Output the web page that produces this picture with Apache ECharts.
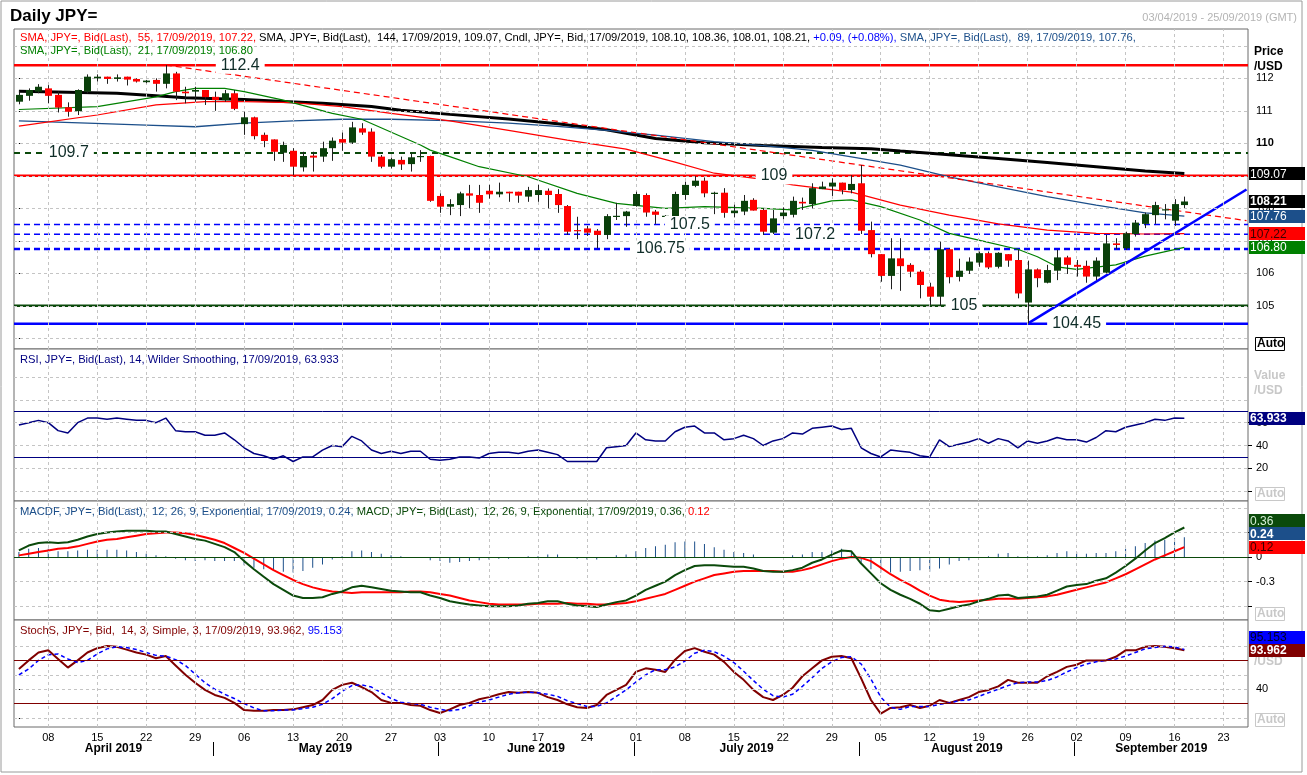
<!DOCTYPE html>
<html><head><meta charset="utf-8">
<script src="https://cdn.jsdelivr.net/npm/echarts@6/dist/echarts.min.js"></script>
<style>html,body{margin:0;padding:0;background:#fff;}#c{width:1307px;height:775px;}</style>
</head><body><div id="c"></div>
<script>
// ---------- data ----------
const START_DATE = '2019-04-03', END_DATE = '2019-09-25';
const monthNames = ['January','February','March','April','May','June','July','August','September','October','November','December'];
const openP = [111.28,111.46,111.59,111.69,111.49,111.11,110.99,111.59,112.00,112.05,111.98,112.05,111.98,111.88,111.95,111.83,112.15,111.59,111.59,111.64,111.43,111.33,111.54,110.59,110.80,110.26,110.12,109.71,109.77,109.26,109.62,109.59,109.85,110.13,110.02,110.46,110.36,109.59,109.28,109.49,109.36,109.60,109.61,108.38,108.05,108.10,108.46,108.41,108.54,108.43,108.51,108.51,108.36,108.41,108.54,108.44,108.07,107.33,107.38,107.31,107.18,107.74,107.76,108.07,108.41,107.90,107.75,107.76,108.41,108.69,108.85,108.44,108.48,107.85,107.90,108.26,107.95,107.25,107.76,107.80,108.20,108.13,108.59,108.67,108.79,108.56,108.77,107.33,106.59,105.92,106.46,106.26,106.05,105.59,105.28,106.74,105.89,106.08,106.33,106.62,106.20,106.59,106.41,105.10,106.12,105.71,106.08,106.49,106.26,106.23,105.90,106.02,106.92,106.77,107.21,107.52,107.79,107.95,107.62,108.10];
const highP = [111.62,111.69,111.82,111.79,111.59,111.26,111.66,112.12,112.12,112.05,112.12,112.05,112.00,111.95,112.00,112.41,112.20,111.74,111.74,111.64,111.59,111.64,111.64,110.97,110.82,110.33,110.12,110.05,109.85,109.74,109.74,110.05,110.18,110.33,110.66,110.62,110.46,109.64,109.56,109.59,109.69,109.79,109.62,108.46,108.28,108.51,108.72,108.72,108.72,108.79,108.51,108.51,108.66,108.72,108.61,108.59,108.10,107.74,107.46,107.36,107.82,108.17,107.92,108.51,108.46,107.95,107.79,108.51,108.82,108.99,108.95,108.51,108.62,108.11,108.41,108.31,108.00,107.95,108.03,108.36,108.33,108.77,108.82,108.92,108.79,109.02,109.33,107.59,106.59,107.08,107.08,106.31,106.10,105.71,106.97,106.77,106.45,106.49,106.67,106.67,106.65,106.59,106.72,106.39,106.15,106.26,106.72,106.54,106.41,106.39,106.49,107.18,107.08,107.28,107.64,107.87,108.20,108.13,108.28,108.36];
const lowP = [111.20,111.31,111.54,111.23,110.95,110.82,110.87,111.54,111.90,111.83,111.90,111.78,111.87,111.85,111.59,111.69,111.33,111.23,111.28,111.18,111.00,111.28,111.02,110.26,110.12,109.88,109.46,109.43,109.02,109.13,109.13,109.43,109.46,109.77,109.98,110.26,109.43,109.23,109.23,109.18,109.13,109.43,108.20,107.86,107.79,107.76,108.00,107.86,108.30,108.34,108.20,108.17,108.20,108.20,108.00,107.86,107.18,107.05,107.15,106.77,107.05,107.64,107.43,108.05,107.74,107.52,107.62,107.69,108.26,108.65,108.34,107.82,107.71,107.72,107.79,107.93,107.18,107.21,107.66,107.72,107.95,108.00,108.59,108.38,108.43,108.46,107.21,106.49,105.74,105.51,105.46,105.88,105.23,105.02,105.02,105.69,105.75,105.98,106.20,106.13,106.15,106.20,105.23,104.46,105.57,105.69,105.79,105.98,105.90,105.71,105.79,106.00,106.74,106.72,107.13,107.39,107.52,107.66,107.46,108.01];
const closeP = [111.49,111.64,111.74,111.46,111.10,110.97,111.64,112.05,112.05,111.98,112.03,111.96,111.90,111.93,111.83,112.15,111.59,111.54,111.64,111.42,111.33,111.54,111.06,110.80,110.22,110.07,109.74,109.95,109.28,109.61,109.56,109.85,110.08,110.02,110.49,110.33,109.59,109.28,109.51,109.35,109.57,109.61,108.23,108.05,108.13,108.46,108.39,108.17,108.43,108.51,108.46,108.39,108.56,108.56,108.41,108.10,107.28,107.31,107.25,107.18,107.76,107.77,107.90,108.44,107.87,107.80,107.77,108.44,108.72,108.85,108.46,108.48,107.86,107.93,108.23,107.93,107.28,107.69,107.87,108.23,108.15,108.62,108.67,108.79,108.56,108.75,107.31,106.59,105.92,106.46,106.22,106.05,105.64,105.28,106.74,105.88,106.08,106.36,106.62,106.18,106.63,106.39,105.38,106.12,105.85,106.10,106.49,106.26,106.20,105.90,106.39,106.92,106.87,107.23,107.56,107.82,108.10,107.97,108.13,108.21];

// moving averages: [dayIndex, value]
const sma144 = [[0,111.60],[10,111.54],[14,111.46],[17,111.40],[23,111.35],[27,111.29],[31,111.23],[36,111.13],[39,111.02],[44,110.89],[50,110.75],[55,110.60],[60,110.42],[65,110.15],[70,110.02],[76,109.93],[82,109.87],[87,109.83],[90,109.76],[95,109.65],[100,109.53],[105,109.41],[110,109.28],[115,109.15],[119,109.07]];
const sma89 = [[0,110.69],[7,110.62],[13,110.56],[18,110.51],[23,110.62],[28,110.69],[33,110.74],[38,110.74],[44,110.70],[50,110.62],[55,110.52],[60,110.40],[65,110.25],[71,110.05],[76,109.93],[81,109.78],[85,109.58],[90,109.33],[95,108.97],[100,108.66],[105,108.36],[110,108.10],[115,107.86],[119,107.76]];
const sma55 = [[0,110.53],[8,110.87],[14,111.18],[19,111.28],[23,111.28],[28,111.25],[33,111.13],[38,110.92],[44,110.69],[50,110.40],[56,110.10],[62,109.82],[67,109.42],[71,109.08],[76,108.89],[79,108.72],[85,108.50],[90,108.10],[95,107.79],[100,107.52],[105,107.33],[110,107.23],[115,107.21],[119,107.22]];
const sma21 = [[0,111.04],[8,111.13],[14,111.43],[16,111.59],[18,111.69],[21,111.69],[23,111.59],[27,111.33],[32,110.92],[35,110.74],[41,109.95],[42,109.79],[44,109.59],[47,109.28],[52,108.97],[57,108.46],[61,108.15],[66,108.00],[70,108.05],[76,108.00],[79,107.95],[83,108.23],[85,108.26],[88,108.05],[92,107.64],[95,107.23],[98,107.02],[102,106.74],[104,106.51],[106,106.20],[108,106.12],[112,106.26],[115,106.53],[119,106.80]];

// drawn levels and trend lines
const levelValues = [112.4, 109.7, 109, 107.5, 107.2, 106.75, 105, 104.45];
const levelTexts  = ['112.4','109.7','109','107.5','107.2','106.75','105','104.45'];
const levelLabelAt = [22.6, 5.1, 77.1, 68.5, 81.3, 65.5, 96.5, 108.0];
const redTrend  = [[15, 112.41], [125.35, 107.62]];
const blueTrend = [[103, 104.45], [125.35, 108.58]];

const rsi = [58,60,62,60,53,51,60,64,64,63, 64,63,62,62,60,64,53,52,52,49, 49,51,45,38,33,31,28,31,26,30, 30,36,40,39,48,44,36,33,35,33, 35,35,28,27,28,30,30,29,33,34, 34,33,35,36,34,32,26,26,26,26, 38,39,40,51,45,44,44,52,56,57, 51,51,45,46,49,46,40,44,46,51, 50,55,56,57,54,55,38,33,30,36, 35,34,31,30,45,39,41,43,46,42, 46,44,38,44,42,44,47,45,45,43, 47,53,52,56,58,60,63,62,64,63.933];
const macd = [0.08,0.14,0.17,0.18,0.17,0.18,0.21,0.25,0.28,0.30, 0.31,0.32,0.32,0.32,0.31,0.31,0.28,0.25,0.22,0.20, 0.16,0.12,0.06,-0.05,-0.15,-0.24,-0.33,-0.40,-0.47,-0.50, -0.50,-0.49,-0.45,-0.42,-0.37,-0.35,-0.37,-0.39,-0.41,-0.42, -0.43,-0.43,-0.47,-0.50,-0.54,-0.56,-0.58,-0.59,-0.60,-0.60, -0.60,-0.59,-0.57,-0.56,-0.54,-0.54,-0.57,-0.59,-0.60,-0.61, -0.58,-0.55,-0.53,-0.47,-0.40,-0.35,-0.30,-0.22,-0.16,-0.11, -0.10,-0.10,-0.11,-0.12,-0.12,-0.14,-0.17,-0.18,-0.18,-0.16, -0.13,-0.07,-0.03,0.03,0.08,0.07,-0.08,-0.20,-0.32,-0.40, -0.46,-0.51,-0.57,-0.65,-0.66,-0.63,-0.60,-0.58,-0.54,-0.51, -0.47,-0.46,-0.50,-0.49,-0.48,-0.46,-0.41,-0.36,-0.34,-0.33, -0.29,-0.26,-0.19,-0.11,-0.02,0.08,0.17,0.23,0.30,0.36];
const macdSignal = [0.02,0.04,0.06,0.08,0.10,0.11,0.13,0.16,0.19,0.21, 0.22,0.24,0.26,0.28,0.29,0.30,0.30,0.29,0.27,0.24, 0.21,0.17,0.11,0.05,-0.02,-0.09,-0.16,-0.22,-0.28,-0.33, -0.37,-0.40,-0.42,-0.43,-0.44,-0.43,-0.43,-0.43,-0.43,-0.43, -0.42,-0.42,-0.43,-0.45,-0.47,-0.50,-0.53,-0.55,-0.57,-0.58, -0.58,-0.58,-0.58,-0.57,-0.57,-0.57,-0.56,-0.57,-0.57,-0.58, -0.58,-0.57,-0.56,-0.54,-0.51,-0.48,-0.45,-0.40,-0.35,-0.30, -0.26,-0.22,-0.20,-0.18,-0.17,-0.17,-0.17,-0.17,-0.18,-0.18, -0.16,-0.13,-0.09,-0.05,-0.02,0.00,-0.01,-0.05,-0.13,-0.21, -0.28,-0.34,-0.41,-0.47,-0.52,-0.54,-0.55,-0.54,-0.53,-0.52, -0.51,-0.51,-0.51,-0.50,-0.49,-0.48,-0.46,-0.43,-0.40,-0.37, -0.34,-0.31,-0.26,-0.21,-0.15,-0.09,-0.03,0.02,0.07,0.12];
const macdHist = [0.06,0.10,0.11,0.10,0.07,0.07,0.08,0.09,0.09,0.09, 0.09,0.08,0.06,0.04,0.02,0.01,-0.02,-0.04,-0.05,-0.04, -0.05,-0.05,-0.05,-0.10,-0.13,-0.15,-0.17,-0.18,-0.19,-0.17, -0.13,-0.09,-0.03,0.01,0.07,0.08,0.06,0.04,0.02,0.01, -0.01,-0.01,-0.04,-0.05,-0.07,-0.06,-0.05,-0.04,-0.03,-0.02, -0.02,-0.01,0.01,0.01,0.03,0.03,-0.01,-0.02,-0.03,-0.03, 0.00,0.02,0.03,0.07,0.11,0.13,0.15,0.18,0.19,0.19, 0.16,0.12,0.09,0.06,0.05,0.03,0.00,-0.01,0.00,0.02, 0.03,0.06,0.06,0.08,0.10,0.07,-0.07,-0.15,-0.19,-0.19, -0.18,-0.17,-0.16,-0.18,-0.14,-0.09,-0.05,-0.04,-0.01,0.01, 0.04,0.05,0.01,0.01,0.01,0.02,0.05,0.07,0.06,0.04, 0.05,0.05,0.07,0.10,0.13,0.17,0.20,0.21,0.23,0.24];
const stochK = [68,80,91,94,82,70,80,91,97,100, 99,95,91,88,83,86,73,60,49,39, 32,28,21,11,10,10,11,11,12,15, 18,25,39,46,49,43,36,25,21,21, 18,17,11,7,12,18,21,26,29,33, 36,35,36,35,29,25,19,15,14,18, 32,39,46,64,69,67,64,81,93,97, 92,88,78,64,53,39,29,25,32,42, 58,69,80,85,86,83,55,25,6,14, 15,18,14,17,25,21,25,29,36,39, 44,53,49,49,49,58,64,71,74,80, 80,80,85,94,94,99,100,99,97,93.962];
const stochD = [60,68,80,88,89,82,77,80,89,96, 99,98,95,91,87,86,81,73,61,49, 40,33,27,20,14,10,10,11,11,13, 15,19,27,37,45,46,43,35,27,22, 20,19,15,12,10,12,17,22,25,29, 33,35,36,35,33,30,24,20,16,16, 21,30,39,50,60,67,67,71,79,90, 94,92,86,77,65,52,40,31,29,33, 44,56,69,78,84,85,75,54,29,15, 12,16,16,16,19,21,24,25,30,35, 40,45,49,50,50,52,57,64,70,75, 78,80,82,86,91,96,98,99.5,98.7,95.153];

const priceTicks = [104,105,106,107,108,109,110,111,112];
const priceLabels = [105,106,107,108,109,110,111,112];
const priceGrid = [104,105,106,107,108,109,110,111,112,113];

// ---------- categories ----------
const dates = [];
for (let d = new Date(START_DATE + 'T00:00:00Z'); d <= new Date(END_DATE + 'T00:00:00Z'); d.setUTCDate(d.getUTCDate() + 1)) {
  const w = d.getUTCDay(); if (w > 0 && w < 6) dates.push(d.toISOString().slice(0, 10));
}
const dow = s => new Date(s + 'T00:00:00Z').getUTCDay();
const mondays = dates.map((s, i) => dow(s) === 1 ? i : -1).filter(i => i >= 0);
const monthStarts = [];
dates.forEach((s, i) => { if (i > 0 && s.slice(5, 7) !== dates[i - 1].slice(5, 7)) monthStarts.push(i); });
const sepVals = monthStarts.map(i => i - 0.2);
const bounds = [-0.5].concat(sepVals, [dates.length - 0.5]);
const monthCenters = [], monthLabelText = [];
for (let k = 0; k < bounds.length - 1; k++) {
  monthCenters.push((bounds[k] + bounds[k + 1]) / 2);
  const firstIdx = k === 0 ? 0 : monthStarts[k - 1];
  const m = +dates[firstIdx].slice(5, 7) - 1;
  monthLabelText.push(monthNames[m] + ' ' + dates[firstIdx].slice(0, 4));
}

const candleData = openP.map((o, i) => [i, o, closeP[i], lowP[i], highP[i]]);

// ---------- layout ----------
const L = 14, W = 1234;
const grids = [
  {left: L, width: W, top: 29, height: 320},
  {left: L, width: W, top: 349, height: 152},
  {left: L, width: W, top: 501, height: 119},
  {left: L, width: W, top: 620, height: 107}
].map(g => Object.assign(g, {show: true, borderColor: '#6a6a6a', borderWidth: 1, backgroundColor: '#fff', outerBoundsMode: 'none'}));

const FONT = '"Liberation Sans", Arial, sans-serif';
const gridLineStyle = {color: '#c4c4c4', type: [3, 3], width: 1};
function gridMarks(hVals) {
  return {
    silent: true, symbol: ['none', 'none'], animation: false,
    label: {show: false}, lineStyle: gridLineStyle, emphasis: {disabled: true},
    data: mondays.map(i => ({xAxis: dates[i]})).concat(hVals.map(v => ({yAxis: v})))
  };
}
function refMarks(vals, color, width) {
  return {silent: true, symbol: ['none', 'none'], animation: false, label: {show: false},
    lineStyle: {color: color, type: 'solid', width: width || 1}, emphasis: {disabled: true},
    data: vals.map(v => ({yAxis: v}))};
}
function catAxis(gi, extra) {
  return Object.assign({type: 'category', gridIndex: gi, data: dates, boundaryGap: true,
    axisLine: {show: false}, axisTick: {show: false}, axisLabel: {show: false}, splitLine: {show: false}}, extra || {});
}
function valYAxis(gi, min, max, ticks, labels, fmt) {
  return {type: 'value', gridIndex: gi, position: 'right', min: min, max: max, scale: true,
    axisLine: {show: false}, splitLine: {show: false},
    axisTick: {show: true, length: 4, inside: false, customValues: ticks, lineStyle: {color: '#000'}},
    axisLabel: {show: true, customValues: labels, margin: 8, color: '#000', fontSize: 11, fontFamily: FONT,
      formatter: fmt || (v => String(v)), rich: {b: {fontWeight: 'bold', fontSize: 11, fontFamily: FONT, color: '#000'}}}};
}

const xAxes = [
  catAxis(0), catAxis(1), catAxis(2),
  catAxis(3, {axisLabel: {show: true, interval: (i) => dow(dates[i]) === 1, formatter: v => v.slice(8, 10),
    color: '#000', fontSize: 11, fontFamily: FONT, margin: 5}}),
  {type: 'value', gridIndex: 0, min: -0.5, max: dates.length - 0.5, show: false},
  {type: 'value', gridIndex: 3, min: -0.5, max: dates.length - 0.5, position: 'bottom', offset: 15,
    axisLine: {show: false}, splitLine: {show: false},
    axisTick: {show: true, customValues: sepVals, length: 14, lineStyle: {color: '#000', width: 1}},
    axisLabel: {show: true, customValues: monthCenters, margin: 1, fontWeight: 'bold', fontSize: 12, fontFamily: FONT, color: '#000',
      formatter: v => { const k = monthCenters.findIndex(c => Math.abs(c - v) < 1e-6); return k >= 0 ? monthLabelText[k] : ''; }}}
];
const yAxes = [
  valYAxis(0, 103.671, 113.517, priceTicks, priceLabels, v => v === 110 ? '{b|110}' : String(v)),
  valYAxis(1, -8.58, 124.46, [0, 20, 40, 60], [20, 40, 60]),
  valYAxis(2, -0.768, 0.683, [-0.6, -0.3, 0, 0.3], [-0.3, 0, 0.3], v => String(Math.round(v * 10) / 10)),
  valYAxis(3, -12.5, 136.1, [0, 40], [40])
];

const series = [];
series.push({type: 'line', xAxisIndex: 0, yAxisIndex: 0, data: [], z: 0, markLine: gridMarks(priceGrid)});
series.push({type: 'line', xAxisIndex: 1, yAxisIndex: 1, data: [], z: 0, markLine: gridMarks([0, 20, 40, 60, 80, 100])});
series.push({type: 'line', xAxisIndex: 2, yAxisIndex: 2, data: [], z: 0, markLine: gridMarks([-0.6, -0.3, 0.3, 0.6])});
series.push({type: 'line', xAxisIndex: 3, yAxisIndex: 3, data: [], z: 0, markLine: gridMarks([0, 20, 40, 60, 80, 100])});

const levelStyles = [
  {color: '#ff0000', width: 2.5, type: 'solid'},
  {color: '#0b4a0b', width: 2, type: [6, 5]},
  {color: '#ff0000', width: 2.5, type: 'solid'},
  {color: '#0000ff', width: 1.5, type: [6, 4]},
  {color: '#0000ff', width: 1.5, type: [6, 4]},
  {color: '#0000ff', width: 2.5, type: [6, 4]},
  {color: '#0b4a0b', width: 2.5, type: 'solid'},
  {color: '#0000ff', width: 2.5, type: 'solid'}
];
levelValues.forEach((v, k) => {
  series.push({type: 'line', xAxisIndex: 4, yAxisIndex: 0, data: [[-0.5, v], [dates.length - 0.5, v]],
    symbol: 'none', silent: true, z: 2, lineStyle: levelStyles[k]});
});
[[sma144, '#000000', 3], [sma89, '#1c4f8a', 1.3], [sma55, '#ff0000', 1.2], [sma21, '#008000', 1.2]].forEach(([d, c, w]) => {
  series.push({type: 'line', xAxisIndex: 0, yAxisIndex: 0, data: d, symbol: 'none', silent: true, z: 3,
    lineStyle: {color: c, width: w}});
});
series.push({type: 'line', xAxisIndex: 4, yAxisIndex: 0, data: redTrend, symbol: 'none', silent: true, z: 3,
  lineStyle: {color: '#ff0000', width: 1.2, type: [6, 4]}});
series.push({type: 'line', xAxisIndex: 4, yAxisIndex: 0, data: blueTrend, symbol: 'none', silent: true, z: 4,
  lineStyle: {color: '#0000ff', width: 2.5}});
series.push({type: 'custom', xAxisIndex: 0, yAxisIndex: 0, data: candleData, z: 5, clip: true,
  encode: {x: 0, y: [1, 2, 3, 4]},
  renderItem: function (params, api) {
    const i = api.value(0), o = api.value(1), c = api.value(2), lo = api.value(3), hi = api.value(4);
    const po = api.coord([i, o]), pc = api.coord([i, c]), pl = api.coord([i, lo]), ph = api.coord([i, hi]);
    const x = Math.round(po[0]);
    const top = Math.min(po[1], pc[1]);
    const h = Math.max(1.2, Math.abs(po[1] - pc[1]));
    const col = c >= o ? '#0a400a' : '#ff0000';
    return {type: 'group', children: [
      {type: 'line', shape: {x1: x + 0.5, y1: ph[1], x2: x + 0.5, y2: pl[1]}, style: {stroke: '#202020', lineWidth: 1}},
      {type: 'rect', shape: {x: x - 3, y: top, width: 7, height: h}, style: {fill: col}}
    ]};
  }});
series.push({type: 'scatter', xAxisIndex: 4, yAxisIndex: 0, z: 8, silent: true, symbolSize: 1,
  itemStyle: {color: 'rgba(0,0,0,0)', opacity: 1},
  data: levelValues.map((v, k) => [levelLabelAt[k], v]),
  label: {show: true, position: 'inside', formatter: p => levelTexts[p.dataIndex], color: '#0f2d28', opacity: 1,
    fontSize: 16, fontFamily: FONT, backgroundColor: '#fff', padding: [1, 5, 0, 5]}});

series.push({type: 'line', xAxisIndex: 1, yAxisIndex: 1, data: rsi, symbol: 'none', silent: true, z: 3,
  lineStyle: {color: '#000080', width: 1.5}, markLine: refMarks([70, 30], '#000080', 1)});
series.push({type: 'bar', xAxisIndex: 2, yAxisIndex: 2, data: macdHist, barWidth: 1, silent: true, z: 2,
  itemStyle: {color: '#1c4f8a'}, markLine: refMarks([0], '#0b4a0b', 1)});
series.push({type: 'line', xAxisIndex: 2, yAxisIndex: 2, data: macdSignal, symbol: 'none', silent: true, z: 3,
  lineStyle: {color: '#ff0000', width: 2}});
series.push({type: 'line', xAxisIndex: 2, yAxisIndex: 2, data: macd, symbol: 'none', silent: true, z: 4,
  lineStyle: {color: '#0b4a0b', width: 2}});
series.push({type: 'line', xAxisIndex: 3, yAxisIndex: 3, data: stochK, symbol: 'none', silent: true, z: 3,
  lineStyle: {color: '#800000', width: 2}, markLine: refMarks([80, 20], '#800000', 1)});
series.push({type: 'line', xAxisIndex: 3, yAxisIndex: 3, data: stochD, symbol: 'none', silent: true, z: 4,
  lineStyle: {color: '#0000ff', width: 1.5, type: [4, 3]}});

const chart = echarts.init(document.getElementById('c'), null, {renderer: 'canvas'});
chart.setOption({animation: false, backgroundColor: '#fff', grid: grids, xAxis: xAxes, yAxis: yAxes, series: series});

// ---------- texts & value boxes ----------
const T = (x, y, text, opt, z) => ({type: 'text', x: x, y: y, z: z || 100,
  style: Object.assign({text: text, fill: '#000', font: '11px ' + FONT, textVerticalAlign: 'middle'}, opt || {})});
const rich = (x, y, parts) => ({type: 'text', x: x, y: y, z: 100, style: {
  text: parts.map((p, k) => '{s' + k + '|' + p[0] + '}').join(''),
  textVerticalAlign: 'middle',
  rich: Object.fromEntries(parts.map((p, k) => ['s' + k, {fill: p[1], fontSize: 11.2, fontFamily: FONT}]))}});

const g = [];
g.push({type: 'rect', z: 0, shape: {x: 1, y: 1, width: 1301, height: 771}, style: {fill: 'none', stroke: '#9a9a9a', lineWidth: 1}});
g.push(T(10, 16, 'Daily JPY=', {font: 'bold 17px ' + FONT}));
g.push(T(1297, 18, '03/04/2019 - 25/09/2019 (GMT)', {fill: '#b4b4b4', textAlign: 'right'}));
g.push(rich(20, 38, [
  ['SMA, JPY=, Bid(Last),  55, 17/09/2019, 107.22, ', '#ff0000'],
  ['SMA, JPY=, Bid(Last),  144, 17/09/2019, 109.07, Cndl, JPY=, Bid, 17/09/2019, 108.10, 108.36, 108.01, 108.21, ', '#000000'],
  ['+0.09, (+0.08%), ', '#0000ff'],
  ['SMA, JPY=, Bid(Last),  89, 17/09/2019, 107.76,', '#1c4f8a']]));
g.push(rich(20, 51, [['SMA, JPY=, Bid(Last),  21, 17/09/2019, 106.80', '#008000']]));
g.push(rich(20, 360, [['RSI, JPY=, Bid(Last), 14, Wilder Smoothing, 17/09/2019, 63.933', '#000080']]));
g.push(rich(20, 512, [
  ['MACDF, JPY=, Bid(Last),  12, 26, 9, Exponential, 17/09/2019, 0.24, ', '#1c4f8a'],
  ['MACD, JPY=, Bid(Last),  12, 26, 9, Exponential, 17/09/2019, 0.36, ', '#0b4a0b'],
  ['0.12', '#ff0000']]));
g.push(rich(20, 631, [['StochS, JPY=, Bid,  14, 3, Simple, 3, 17/09/2019, 93.962, ', '#800000'], ['95.153', '#0000ff']]));

g.push(T(1254, 52, 'Price', {font: 'bold 12px ' + FONT}));
g.push(T(1254, 67, '/USD', {font: 'bold 12px ' + FONT}));
g.push(T(1254, 376, 'Value', {font: 'bold 12px ' + FONT, fill: '#c8c8c8'}));
g.push(T(1254, 391, '/USD', {font: 'bold 12px ' + FONT, fill: '#c8c8c8'}));
g.push(T(1254, 647, 'Value', {font: 'bold 12px ' + FONT, fill: '#c8c8c8'}));
g.push(T(1254, 662, '/USD', {font: 'bold 12px ' + FONT, fill: '#c8c8c8'}));
function autoBox(yc, dark) {
  const col = dark ? '#000' : '#c8c8c8';
  g.push({type: 'rect', z: 100, shape: {x: 1255.5, y: yc - 6.5, width: 29, height: 13}, style: {fill: '#fff', stroke: col, lineWidth: 1}});
  g.push(T(1257, yc, 'Auto', {font: 'bold 12px ' + FONT, fill: col}, 101));
}
autoBox(344, true); autoBox(494, false); autoBox(614, false); autoBox(720, false);

function valueBoxes(axisIdx, items) {
  const pts = items.map(it => Object.assign({}, it, {y: chart.convertToPixel({yAxisIndex: axisIdx}, it.v)}));
  pts.sort((a, b) => b.y - a.y);
  let prev = Infinity;
  pts.forEach(p => {
    const y = Math.min(p.y, prev - 13.3); prev = y;
    g.push({type: 'rect', z: 110, shape: {x: 1249, y: Math.round(y - 6.5), width: 56, height: 13}, style: {fill: p.bg}});
    g.push(T(1250, Math.round(y) + 0.5, p.t, {fill: p.fg, font: (p.bold ? 'bold ' : '') + '12px ' + FONT}, 111));
  });
}
valueBoxes(0, [
  {v: 109.07, t: '109.07', bg: '#000', fg: '#fff'},
  {v: 108.21, t: '108.21', bg: '#000', fg: '#fff', bold: true},
  {v: 107.76, t: '107.76', bg: '#1c4f8a', fg: '#fff'},
  {v: 107.22, t: '107.22', bg: '#ff0000', fg: '#3a0000'},
  {v: 106.80, t: '106.80', bg: '#008000', fg: '#fff'}]);
valueBoxes(1, [{v: 63.933, t: '63.933', bg: '#000080', fg: '#fff', bold: true}]);
valueBoxes(2, [
  {v: 0.36, t: '0.36', bg: '#0b4a0b', fg: '#d8f0d8'},
  {v: 0.24, t: '0.24', bg: '#1c4f8a', fg: '#fff', bold: true},
  {v: 0.12, t: '0.12', bg: '#ff0000', fg: '#3a0000'}]);
valueBoxes(3, [
  {v: 95.153, t: '95.153', bg: '#0000ff', fg: '#000020'},
  {v: 93.962, t: '93.962', bg: '#800000', fg: '#fff', bold: true}]);

chart.setOption({graphic: {elements: g}});
</script>
</body></html>
